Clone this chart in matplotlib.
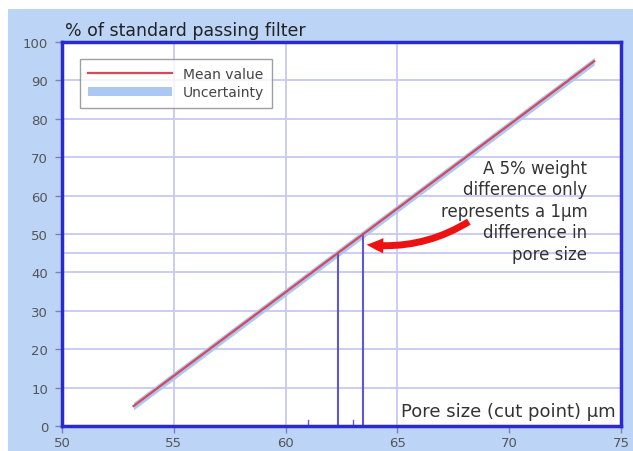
import numpy as np
import matplotlib
matplotlib.use('Agg')
import matplotlib.pyplot as plt
from matplotlib.patches import Rectangle, FancyArrowPatch

# Data
pore_size = [53.2, 73.8]          # um
mean_passing = [5.2, 95.0]        # % of standard passing filter
uncertainty = 1.0                 # half-width of band, %
cut_points = [62.35, 63.45]       # um
cut_levels = [45, 50]             # %
minor_marks = [61.0, 63.0]
x_ticks = [50, 55, 60, 65, 70, 75]
y_ticks = [0, 10, 20, 30, 40, 50, 60, 70, 80, 90, 100]
x_grid = [55, 60, 65]
y_grid = [10, 20, 30, 40, 45, 50, 60, 70, 80, 90]

spine_col = '#2a2ad0'
grid_col = '#c8c8f0'
text_col = '#333333'

fig = plt.figure(figsize=(6.33, 4.52), dpi=100, facecolor='white')
bg = Rectangle((8 / 633, 0), 1, 1 - 10 / 452, transform=fig.transFigure,
               facecolor='#bcd5f7', edgecolor='none', zorder=-10)
fig.patches.append(bg)
ax = fig.add_axes([62 / 633, 1 - 427 / 452, (621 - 62) / 633, (427 - 43) / 452])
ax.set_zorder(1)
ax.set_facecolor('white')

for g in x_grid:
    ax.axvline(g, color=grid_col, lw=1.3, zorder=1)
for g in y_grid:
    ax.axhline(g, color=grid_col, lw=1.3, zorder=1)

x = np.array(pore_size)
y = np.array(mean_passing)
ax.fill_between(x, y - uncertainty, y + uncertainty, color='#aac8f2', lw=0,
                zorder=2, label='Uncertainty')
ax.plot(x, y, color='#d84858', lw=1.6, zorder=3, label='Mean value')

for cx, cy in zip(cut_points, cut_levels):
    ax.plot([cx, cx], [0, cy], color='#5a5ad8', lw=1.5, zorder=2)
for m in minor_marks:
    ax.plot([m, m], [0, 1.6], color='#5a5ad8', lw=1.0, zorder=2)

arrow = FancyArrowPatch((68.3, 53.6), (63.5, 47.3),
                        connectionstyle='arc3,rad=-0.18',
                        arrowstyle='simple,head_width=11,head_length=12,tail_width=5',
                        color='#ee1111', lw=0, zorder=4)
ax.add_patch(arrow)

ax.text(73.5, 56, 'A 5% weight\ndifference only\nrepresents a 1µm\ndifference in\npore size',
        ha='right', va='center', fontsize=12, color=text_col, linespacing=1.25, zorder=5)
ax.text(74.75, 3.8, 'Pore size (cut point) µm', ha='right', va='center', fontsize=13,
        color=text_col, zorder=5,
        bbox=dict(facecolor='white', edgecolor='none', pad=1))
fig.text(65 / 633, 1 - 31 / 452, '% of standard passing filter', ha='left', va='center',
         fontsize=12.5, color='#222222')

ax.set_xlim(50, 75)
ax.set_ylim(0, 100)
ax.set_xticks(x_ticks)
ax.set_yticks(y_ticks)
ax.tick_params(axis='both', colors='#8080b0', labelcolor='#555555', labelsize=9.5,
               length=5, width=1)
ax.tick_params(axis='x', pad=2)
ax.tick_params(axis='y', pad=5)
for s in ax.spines.values():
    s.set_color(spine_col)
    s.set_linewidth(2.5)
    s.set_zorder(6)

handles, labels = ax.get_legend_handles_labels()
leg = ax.legend(handles[::-1], labels[::-1], loc='upper left', bbox_to_anchor=(0.032, 0.956),
                borderaxespad=0, fontsize=10, frameon=True, fancybox=False,
                edgecolor='#888888', handlelength=6, borderpad=0.6, labelspacing=0.3)
leg.get_frame().set_linewidth(1)
for t in leg.get_texts():
    t.set_color('#444444')

fig.savefig('out.png', dpi=100, facecolor=fig.get_facecolor())
